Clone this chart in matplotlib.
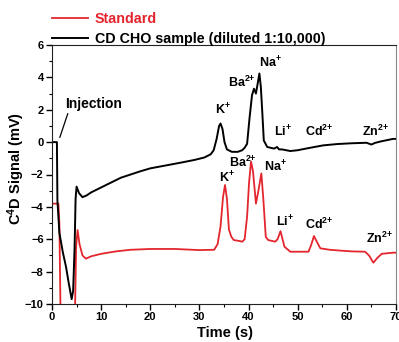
import numpy as np
import matplotlib
matplotlib.use("Agg")
import matplotlib.pyplot as plt
from matplotlib.ticker import MultipleLocator

# ---- data ----
sample_t = [0, 1.0, 1.1, 1.5, 2.2, 2.85, 3.4, 4.0, 4.3, 4.6, 4.8, 5.0, 5.5, 6.2, 7.0,
            8.0, 10, 12, 14, 16, 18, 20, 23, 26, 29, 31, 32.3, 32.9, 33.5, 34.0,
            34.3, 34.7, 35.1, 35.6, 36.6, 37.8, 38.7, 39.2, 39.7, 40.2, 40.7, 41.1,
            41.5, 41.9, 42.2, 42.5, 42.8, 43.1, 43.8, 44.5, 45.2, 45.8, 46.2, 46.8,
            48.5, 50, 52, 55.2, 58, 61, 64, 65, 65.7, 67, 69.4, 70]
sample_v = [0, 0, -3.6, -5.6, -6.8, -7.7, -8.7, -9.7, -9.2, -6.5, -3.5, -2.75, -3.15,
            -3.4, -3.3, -3.1, -2.8, -2.5, -2.2, -2.0, -1.8, -1.62, -1.45, -1.28, -1.1,
            -0.95, -0.75, -0.5, 0.2, 1.0, 1.15, 0.8, 0.0, -0.45, -0.6, -0.6, -0.5,
            -0.35, -0.1, 1.5, 2.9, 3.3, 3.0, 3.7, 4.24, 3.4, 1.8, 0.1, -0.3, -0.35,
            -0.4, -0.3, -0.45, -0.45, -0.55, -0.5, -0.38, -0.2, -0.12, -0.07, -0.04,
            -0.15, -0.05, 0.05, 0.2, 0.2]

std_t = [0, 1.3, 1.5, 1.8, 4.6, 4.9, 5.2, 5.6, 6.2, 6.9, 8, 10, 13, 16, 20, 25, 30,
         33.0, 33.7, 34.3, 34.8, 35.2, 35.6, 36.0, 36.5, 37.0, 38.0, 38.7, 39.2,
         39.7, 40.1, 40.5, 40.9, 41.5, 42.0, 42.6, 43.0, 43.5, 44.0, 45.4, 45.9,
         46.5, 47.0, 47.3, 48.5, 52.2, 52.8, 53.3, 53.8, 54.6, 56.5, 58.6, 61,
         63.7, 64.5, 65.4, 66.2, 67.1, 69.4, 70]
std_v = [-3.8, -3.8, -5.0, -12, -12, -6.5, -5.43, -6.3, -7.0, -7.2, -7.05, -6.9,
         -6.75, -6.65, -6.6, -6.6, -6.67, -6.65, -6.3, -5.2, -3.4, -2.65, -3.5,
         -5.4, -5.85, -6.05, -6.1, -6.15, -6.0, -4.6, -2.5, -1.2, -1.8, -3.8, -3.0,
         -1.93, -3.5, -5.85, -6.05, -6.15, -6.0, -5.5, -6.1, -6.46, -6.77, -6.77,
         -6.3, -5.8, -6.1, -6.56, -6.65, -6.7, -6.75, -6.77, -7.0, -7.45, -7.15,
         -6.9, -6.83, -6.83]

# ion labels: (text, t, v)
sample_labels = [("K$^{+}$", 33.1, 2.0), ("Ba$^{2{+}}$", 35.9, 3.7), ("Na$^{+}$", 42.2, 4.9),
                 ("Li$^{+}$", 45.2, 0.6), ("Cd$^{2{+}}$", 51.5, 0.65), ("Zn$^{2{+}}$", 63.1, 0.65)]
std_labels = [("K$^{+}$", 33.9, -2.2), ("Ba$^{2{+}}$", 36.0, -1.28), ("Na$^{+}$", 43.1, -1.52),
              ("Li$^{+}$", 45.6, -4.95), ("Cd$^{2{+}}$", 51.5, -5.1), ("Zn$^{2{+}}$", 63.9, -5.95)]

red = "#e3262e"

plt.rcParams["font.family"] = ["Liberation Sans", "DejaVu Sans"]
plt.rcParams["font.weight"] = "bold"
plt.rcParams["mathtext.fontset"] = "custom"
plt.rcParams["mathtext.rm"] = "Liberation Sans:bold"
plt.rcParams["mathtext.it"] = "Liberation Sans:bold"
plt.rcParams["mathtext.bf"] = "Liberation Sans:bold"
plt.rcParams["mathtext.default"] = "rm"

fig = plt.figure(figsize=(3.99, 3.42), dpi=100)
ax = fig.add_axes([52 / 399, 38 / 342, 344 / 399, 259 / 342])

l_std, = ax.plot(std_t, std_v, color=red, lw=1.3, label="Standard")
l_smp, = ax.plot(sample_t, sample_v, color="black", lw=1.4,
                 label="CD CHO sample (diluted 1:10,000)")

ax.set_xlim(0, 70)
ax.set_ylim(-10, 6)
ax.xaxis.set_major_locator(MultipleLocator(10))
ax.xaxis.set_minor_locator(MultipleLocator(5))
ax.yaxis.set_major_locator(MultipleLocator(2))
ax.yaxis.set_minor_locator(MultipleLocator(1))
ax.tick_params(which="major", direction="out", length=4, width=1, labelsize=8, pad=2)
ax.tick_params(which="minor", direction="out", length=2, width=0.8)
for lab in ax.get_xticklabels() + ax.get_yticklabels():
    lab.set_fontweight("bold")

for side in ["left", "bottom", "top"]:
    ax.spines[side].set_color("#222222")
ax.spines["right"].set_color("#888888")

ax.set_xlabel("Time (s)", fontsize=10.5, fontweight="bold")
ax.xaxis.set_label_coords(0.503, -0.085)
ax.set_ylabel("C$^{4}$D Signal (mV)", fontsize=10.5, fontweight="bold")
ax.yaxis.set_label_coords(-0.074, 0.523)

for txt, t, v in sample_labels:
    ax.text(t, v, txt, fontsize=9, ha="left", va="center", color="black")
for txt, t, v in std_labels:
    ax.text(t, v, txt, fontsize=9, ha="left", va="center", color="black")

ax.text(2.6, 2.35, "Injection", fontsize=10, ha="left", va="center")
ax.plot([1.6, 3.2], [0.3, 1.75], color="black", lw=0.9)

ax.legend(handles=[l_std, l_smp], loc="lower left", bbox_to_anchor=(0, 0.995),
          frameon=False, fontsize=10.3, labelcolor="linecolor", handlelength=2.5,
          handletextpad=0.5, borderpad=0, borderaxespad=0, labelspacing=0.45)

fig.savefig("out.png", dpi=100)
